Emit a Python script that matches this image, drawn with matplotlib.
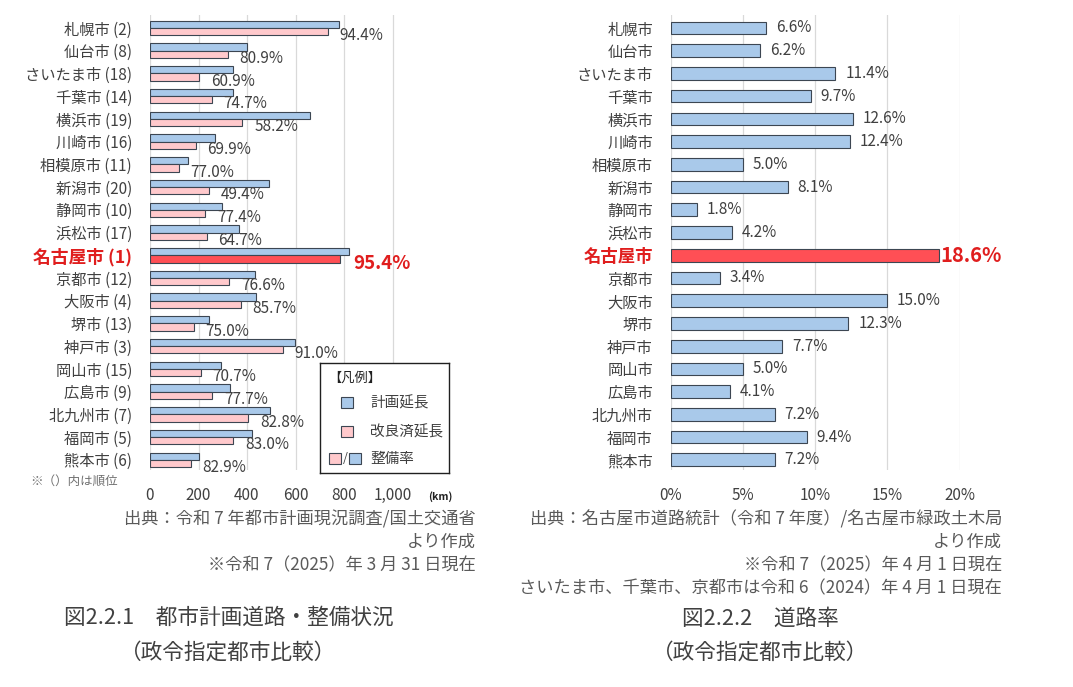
import matplotlib
matplotlib.use('Agg')
import matplotlib.pyplot as plt
import numpy as np

plt.rcParams['font.family'] = ['Noto Sans CJK JP', 'DejaVu Sans']

# data
cities = ['札幌市', '仙台市', 'さいたま市', '千葉市', '横浜市', '川崎市', '相模原市',
          '新潟市', '静岡市', '浜松市', '名古屋市', '京都市', '大阪市', '堺市',
          '神戸市', '岡山市', '広島市', '北九州市', '福岡市', '熊本市']
ranks = [2, 8, 18, 14, 19, 16, 11, 20, 10, 17, 1, 12, 4, 13, 3, 15, 9, 7, 5, 6]
plan_km = [778, 399, 341, 341, 659, 269, 155, 489, 298, 366,
           819, 432, 436, 242, 599, 294, 331, 494, 419, 203]
done_km = [733, 320, 203, 254, 381, 188, 118, 242, 228, 234,
           785, 327, 374, 180, 547, 209, 257, 405, 344, 168]
rate_pct = [94.4, 80.9, 60.9, 74.7, 58.2, 69.9, 77.0, 49.4, 77.4, 64.7,
            95.4, 76.6, 85.7, 75.0, 91.0, 70.7, 77.7, 82.8, 83.0, 82.9]
road_ratio = [6.6, 6.2, 11.4, 9.7, 12.6, 12.4, 5.0, 8.1, 1.8, 4.2,
              18.6, 3.4, 15.0, 12.3, 7.7, 5.0, 4.1, 7.2, 9.4, 7.2]
km_ticks = [0, 200, 400, 600, 800, 1000]
pct_ticks = [0, 5, 10, 15, 20]
highlight = '名古屋市'

W, H = 1073, 687
BLUE = '#A9C9EA'
PINK = '#FFC9CC'
RED = '#FF4F55'
EDGE = '#3C4652'
TXT = '#404040'
HL = '#E01E1E'
GRID = '#D9D9D9'

fig = plt.figure(figsize=(W / 100, H / 100), dpi=100)


def fpos(x, y):
    return x / W, 1 - y / H


def px_axes(x0, x1, y0, y1):
    return fig.add_axes([x0 / W, 1 - y1 / H, (x1 - x0) / W, (y1 - y0) / H])


ypos = np.arange(len(cities))
hl_idx = cities.index(highlight)

# ---- left chart: planned / improved length
ax1 = px_axes(150, 441, 15, 470)
bh = 0.32
done_colors = [RED if c == highlight else PINK for c in cities]
ax1.barh(ypos - bh / 2, plan_km, height=bh, color=BLUE, edgecolor=EDGE, linewidth=0.8)
ax1.barh(ypos + bh / 2, done_km, height=bh, color=done_colors, edgecolor=EDGE, linewidth=0.8)
for i, (d, r) in enumerate(zip(done_km, rate_pct)):
    if cities[i] == highlight:
        ax1.annotate(f'{r:.1f}%', (d, i + bh / 2), xytext=(9, -3), textcoords='offset points',
                     ha='left', va='center', fontsize=13.5, fontweight='bold', color=HL)
    else:
        ax1.annotate(f'{r:.1f}%', (d, i + bh / 2), xytext=(8.5, -3), textcoords='offset points',
                     ha='left', va='center', fontsize=11, color=TXT)
ax1.set_xlim(0, 1200)
ax1.set_ylim(len(cities) - 0.55, -0.57)
ax1.set_xticks(km_ticks)
ax1.set_xticklabels([f'{t:,}' for t in km_ticks])
ax1.set_yticks(ypos)
ax1.set_yticklabels([f'{c} ({r})' for c, r in zip(cities, ranks)])

# ---- right chart: road ratio
ax2 = px_axes(671, 959.5, 15, 470)
ratio_colors = [RED if c == highlight else BLUE for c in cities]
ax2.barh(ypos, road_ratio, height=0.56, color=ratio_colors, edgecolor=EDGE, linewidth=0.8)
for i, v in enumerate(road_ratio):
    if cities[i] == highlight:
        ax2.annotate(f'{v:.1f}%', (v, i), xytext=(1, 0), textcoords='offset points',
                     ha='left', va='center', fontsize=14.5, fontweight='bold', color=HL)
    else:
        ax2.annotate(f'{v:.1f}%', (v, i), xytext=(7, 0), textcoords='offset points',
                     ha='left', va='center', fontsize=11, color=TXT)
ax2.set_xlim(0, 20)
ax2.set_ylim(len(cities) - 0.55, -0.57)
ax2.set_xticks(pct_ticks)
ax2.set_xticklabels([f'{t}%' for t in pct_ticks])
ax2.set_yticks(ypos)
ax2.set_yticklabels(cities)

for ax, hl_size in ((ax1, 12.8), (ax2, 12.5)):
    for s in ax.spines.values():
        s.set_visible(False)
    ax.grid(axis='x', color=GRID, linewidth=0.9)
    ax.set_axisbelow(True)
    ax.tick_params(length=0, labelsize=11, labelcolor=TXT)
    ax.tick_params(axis='x', pad=12)
    ax.tick_params(axis='y', pad=13)
    lab = ax.get_yticklabels()[hl_idx]
    lab.set_color(HL)
    lab.set_fontweight('bold')
    lab.set_fontsize(hl_size)

# (km) unit and rank note
fig.text(*fpos(440, 497), '(km)', fontsize=7.5, fontweight='bold', ha='center', va='center', color='#202020')
fig.text(*fpos(30, 481), '※（）内は順位', fontsize=9, ha='left', va='center', color='#707070')

# legend box drawn by hand
leg = fig.add_axes([320 / W, 1 - 473 / H, 129 / W, 110 / H])
leg.set_xlim(0, 129)
leg.set_ylim(110, 0)
leg.set_xticks([])
leg.set_yticks([])
for s in leg.spines.values():
    s.set_linewidth(1.0)
    s.set_color('#202020')
leg.text(8, 15, '【凡例】', fontsize=9.5, va='center', ha='left', color='#202020')
leg.add_patch(plt.Rectangle((21, 34), 12, 11, facecolor=BLUE, edgecolor=EDGE, lw=0.8))
leg.text(50, 40, '計画延長', fontsize=10.5, va='center', ha='left', color=TXT)
leg.add_patch(plt.Rectangle((21, 63), 12, 11, facecolor=PINK, edgecolor=EDGE, lw=0.8))
leg.text(50, 69, '改良済延長', fontsize=10.5, va='center', ha='left', color=TXT)
leg.add_patch(plt.Rectangle((9, 90), 12, 11, facecolor=PINK, edgecolor=EDGE, lw=0.8))
leg.text(22.5, 95, '/', fontsize=9, va='center', ha='left', color=TXT)
leg.add_patch(plt.Rectangle((29, 90), 12, 11, facecolor=BLUE, edgecolor=EDGE, lw=0.8))
leg.text(50, 96, '整備率', fontsize=10.5, va='center', ha='left', color=TXT)

# sources and captions
SRC = '#5A5A5A'
fig.text(*fpos(476, 519), '出典：令和 7 年都市計画現況調査/国土交通省', fontsize=12.4, ha='right', va='center', color=SRC)
fig.text(*fpos(476, 542), 'より作成', fontsize=12.4, ha='right', va='center', color=SRC)
fig.text(*fpos(476, 565), '※令和 7（2025）年 3 月 31 日現在', fontsize=12.4, ha='right', va='center', color=SRC)
fig.text(*fpos(229, 618), '図2.2.1　都市計画道路・整備状況', fontsize=15.6, ha='center', va='center', color='#404040')
fig.text(*fpos(228, 653), '（政令指定都市比較）', fontsize=15.6, ha='center', va='center', color='#404040')

fig.text(*fpos(1002, 519), '出典：名古屋市道路統計（令和 7 年度）/名古屋市緑政土木局', fontsize=12.4, ha='right', va='center', color=SRC)
fig.text(*fpos(1002, 542), 'より作成', fontsize=12.4, ha='right', va='center', color=SRC)
fig.text(*fpos(1002, 565), '※令和 7（2025）年 4 月 1 日現在', fontsize=12.4, ha='right', va='center', color=SRC)
fig.text(*fpos(1002, 588), 'さいたま市、千葉市、京都市は令和 6（2024）年 4 月 1 日現在', fontsize=12.4, ha='right', va='center', color=SRC)
fig.text(*fpos(760, 619), '図2.2.2　道路率', fontsize=15.6, ha='center', va='center', color='#404040')
fig.text(*fpos(760, 653), '（政令指定都市比較）', fontsize=15.6, ha='center', va='center', color='#404040')

fig.savefig('out.png', dpi=100, facecolor='white')
